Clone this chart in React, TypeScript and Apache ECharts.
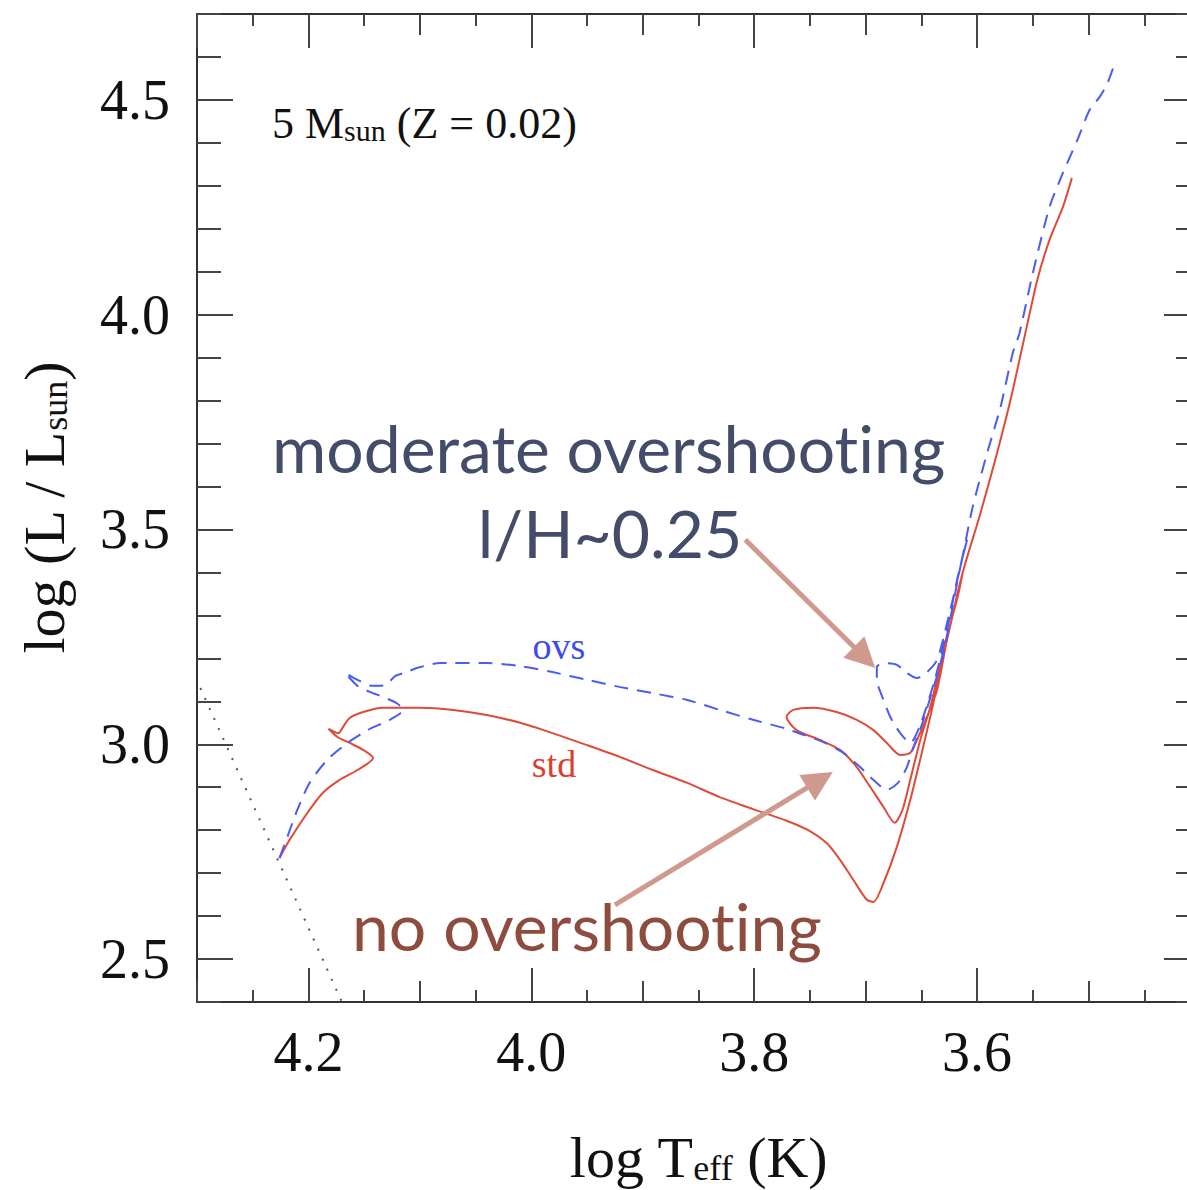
import React, { useEffect, useRef } from "react";
import * as echarts from "echarts";

// ---- axis ranges & ticks ----
const xRange = [3.4, 4.3];
const yRange = [2.4, 4.7];
const yMajorRange = [2.5, 4.5];
const xMajorStep = 0.2;
const xMidStep = 0.1;
const xMinorStep = 0.05;
const yMajorStep = 0.5;
const yMinorStep = 0.1;

// ---- texts ----
const xAxisName = "log T{sub|eff} (K)";
const yAxisName = "log (L / L{sub|sun})";
const modelLabel = "5 M{sub|sun} (Z = 0.02)";
const ovsLabel = "ovs";
const stdLabel = "std";
const ovsNote1 = "moderate overshooting";
const ovsNote2 = "l/H~0.25";
const stdNote = "no overshooting";

// ---- std track (no overshooting): [log Teff, log L] ----
const stdTrack: [number, number][] = [
  [4.226, 2.735], [4.217, 2.777], [4.201, 2.84], [4.187, 2.887], [4.172, 2.917],
  [4.156, 2.94], [4.142, 2.968], [4.151, 2.987], [4.163, 3.003], [4.174, 3.017],
  [4.182, 3.036], [4.173, 3.026], [4.169, 3.04], [4.163, 3.061], [4.151, 3.075],
  [4.133, 3.085], [4.112, 3.085], [4.1, 3.085], [4.07, 3.08], [4.04, 3.068],
  [4.01, 3.05], [3.981, 3.026], [3.95, 2.998], [3.92, 2.97], [3.891, 2.94],
  [3.86, 2.91], [3.831, 2.877], [3.801, 2.849], [3.771, 2.822], [3.75, 2.798],
  [3.735, 2.77], [3.723, 2.731], [3.711, 2.684], [3.699, 2.638], [3.693, 2.633],
  [3.684, 2.677], [3.672, 2.761], [3.66, 2.87], [3.649, 2.987], [3.64, 3.087],
  [3.627, 3.243], [3.613, 3.399], [3.617, 3.348], [3.629, 3.231], [3.642, 3.087],
  [3.651, 3.01], [3.66, 2.917], [3.667, 2.847], [3.674, 2.817], [3.684, 2.854],
  [3.696, 2.901], [3.708, 2.947], [3.723, 2.987], [3.741, 3.01], [3.762, 3.033],
  [3.771, 3.064], [3.765, 3.08], [3.747, 3.085], [3.726, 3.075], [3.708, 3.057],
  [3.693, 3.033], [3.681, 3.003], [3.669, 2.975], [3.66, 2.98], [3.654, 3.01],
  [3.645, 3.064], [3.636, 3.126], [3.627, 3.243], [3.613, 3.399], [3.597, 3.538],
  [3.583, 3.669], [3.57, 3.802], [3.559, 3.93], [3.546, 4.081], [3.535, 4.174],
  [3.523, 4.251], [3.515, 4.318],
];

// ---- ovs track (moderate overshooting) ----
const ovsTrack: [number, number][] = [
  [4.226, 2.735], [4.219, 2.784], [4.21, 2.847], [4.199, 2.91], [4.183, 2.964],
  [4.165, 3.003], [4.147, 3.033], [4.127, 3.057], [4.115, 3.08], [4.121, 3.096],
  [4.133, 3.11], [4.145, 3.122], [4.156, 3.136], [4.167, 3.166], [4.156, 3.15],
  [4.143, 3.136], [4.131, 3.138], [4.122, 3.159], [4.112, 3.168], [4.102, 3.178],
  [4.082, 3.189], [4.07, 3.189], [4.04, 3.189], [4.01, 3.182], [3.981, 3.168],
  [3.95, 3.15], [3.92, 3.133], [3.891, 3.119], [3.86, 3.103], [3.831, 3.08],
  [3.801, 3.057], [3.771, 3.036], [3.756, 3.022], [3.738, 3.005], [3.72, 2.98],
  [3.705, 2.947], [3.693, 2.917], [3.681, 2.894], [3.671, 2.91], [3.663, 2.947],
  [3.658, 2.987], [3.649, 3.05], [3.64, 3.126], [3.631, 3.203], [3.615, 3.413],
  [3.609, 3.476], [3.617, 3.394], [3.627, 3.266], [3.638, 3.15], [3.651, 3.045],
  [3.66, 3.003], [3.669, 3.026], [3.678, 3.064], [3.685, 3.11], [3.69, 3.15],
  [3.69, 3.18], [3.683, 3.189], [3.672, 3.185], [3.663, 3.166], [3.654, 3.154],
  [3.645, 3.168], [3.636, 3.196], [3.627, 3.282], [3.615, 3.413], [3.604, 3.552],
  [3.591, 3.678], [3.579, 3.785], [3.568, 3.911], [3.562, 3.957], [3.55, 4.097],
  [3.535, 4.251], [3.523, 4.33], [3.51, 4.407], [3.499, 4.477], [3.49, 4.507],
  [3.483, 4.539], [3.478, 4.574],
];

// ---- dotted reference line (ZAMS edge) ----
const zamsLine: [number, number][] = [[4.297, 3.131], [4.17, 2.4]];

// ---- annotation arrows: [start, end] ----
const arrowOvs: [number, number][] = [[3.808, 3.476], [3.701, 3.202]];
const arrowStd: [number, number][] = [[3.925, 2.626], [3.741, 2.917]];

const SERIF = "'Liberation Serif', 'Times New Roman', serif";
const SANS = "Lato, 'Noto Sans', sans-serif";
const FRAME = "#333";
const TICK = { color: "#444", width: 2 };

const GRID_LEFT = 197;
const GRID_TOP = 14;
const GRID_W = 1003;
const GRID_H = 988;
const PX_PER_Y = GRID_H / (yRange[1] - yRange[0]);

const nameStyle = {
  fontFamily: SERIF,
  fontSize: 58,
  lineHeight: 58,
  color: "#111",
  rich: {
    sub: { fontFamily: SERIF, fontSize: 36, lineHeight: 30, verticalAlign: "bottom", color: "#111" },
  },
};

function xAxisDef(position: string, interval: number, len: number, opts: any = {}) {
  return {
    type: "value",
    gridIndex: 0,
    position,
    min: xRange[0],
    max: xRange[1],
    inverse: true,
    interval,
    axisLine: { show: !!opts.line, onZero: false, lineStyle: { color: FRAME, width: 2 } },
    axisTick: { show: true, inside: true, length: len, lineStyle: TICK },
    axisLabel: opts.label || { show: false },
    splitLine: { show: false },
    ...(opts.extra || {}),
  };
}

function yAxisDef(gridIndex: number, position: string, min: number, max: number, interval: number, len: number, opts: any = {}) {
  return {
    type: "value",
    gridIndex,
    position,
    min,
    max,
    interval,
    axisLine: { show: !!opts.line, onZero: false, lineStyle: { color: FRAME, width: 2 } },
    axisTick: { show: true, inside: true, length: len, lineStyle: TICK },
    axisLabel: opts.label || { show: false },
    splitLine: { show: false },
    ...(opts.extra || {}),
  };
}

export default function App() {
  const ref = useRef<HTMLDivElement>(null);

  useEffect(() => {
    if (!ref.current) return;
    const chart = echarts.init(ref.current, undefined, { renderer: "svg" });

    const majorTop = GRID_TOP + (yRange[1] - yMajorRange[1]) * PX_PER_Y;
    const majorH = (yMajorRange[1] - yMajorRange[0]) * PX_PER_Y;

    const option: any = {
      animation: false,
      backgroundColor: "#ffffff",
      grid: [
        { left: GRID_LEFT, top: GRID_TOP, width: GRID_W, height: GRID_H, containLabel: false, outerBoundsMode: "none" },
        { left: GRID_LEFT, top: majorTop, width: GRID_W, height: majorH, containLabel: false, outerBoundsMode: "none" },
      ],
      xAxis: [
        xAxisDef("bottom", xMajorStep, 34, {
          line: true,
          label: {
            show: true,
            showMinLabel: false,
            showMaxLabel: false,
            margin: 22,
            fontFamily: SERIF,
            fontSize: 56,
            color: "#111",
            formatter: (v: number) => v.toFixed(1),
          },
          extra: {
            name: xAxisName,
            nameLocation: "middle",
            nameGap: 126,
            nameTextStyle: nameStyle,
          },
        }),
        xAxisDef("bottom", xMidStep, 21),
        xAxisDef("bottom", xMinorStep, 12),
        xAxisDef("top", xMajorStep, 34, { line: true }),
        xAxisDef("top", xMidStep, 21),
        xAxisDef("top", xMinorStep, 12),
        {
          type: "value",
          gridIndex: 1,
          min: xRange[0],
          max: xRange[1],
          inverse: true,
          show: false,
        },
      ],
      yAxis: [
        yAxisDef(0, "left", yRange[0], yRange[1], yMinorStep, 24, {
          line: true,
          extra: {
            name: yAxisName,
            nameLocation: "middle",
            nameGap: 124,
            nameRotate: 90,
            nameTextStyle: nameStyle,
          },
        }),
        yAxisDef(0, "right", yRange[0], yRange[1], yMinorStep, 24, { line: true }),
        yAxisDef(1, "left", yMajorRange[0], yMajorRange[1], yMajorStep, 36, {
          label: {
            show: true,
            margin: 27,
            fontFamily: SERIF,
            fontSize: 56,
            color: "#111",
            formatter: (v: number) => v.toFixed(1),
          },
        }),
        yAxisDef(1, "right", yMajorRange[0], yMajorRange[1], yMajorStep, 36),
      ],
      series: [
        {
          type: "line",
          name: "zams",
          xAxisIndex: 0,
          yAxisIndex: 0,
          data: zamsLine,
          symbol: "none",
          silent: true,
          lineStyle: { color: "#555", width: 2, type: [2, 9] },
          markLine: {
            silent: true,
            symbol: ["none", "triangle"],
            symbolSize: 30,
            label: { show: false },
            lineStyle: { color: "#cf998d", width: 5, type: "solid" },
            emphasis: { disabled: true },
            data: [
              [{ coord: arrowOvs[0] }, { coord: arrowOvs[1] }],
              [{ coord: arrowStd[0] }, { coord: arrowStd[1] }],
            ],
          },
        },
        {
          type: "line",
          name: "std",
          xAxisIndex: 0,
          yAxisIndex: 0,
          data: stdTrack,
          symbol: "none",
          smooth: 0.25,
          silent: true,
          lineStyle: { color: "#e04a38", width: 2 },
          z: 3,
        },
        {
          type: "line",
          name: "ovs",
          xAxisIndex: 0,
          yAxisIndex: 0,
          data: ovsTrack,
          symbol: "none",
          smooth: 0.25,
          silent: true,
          lineStyle: { color: "#4a5cf5", width: 2, type: [14, 9] },
          z: 4,
        },
      ],
      graphic: [
        {
          type: "text",
          x: 272,
          y: 123,
          silent: true,
          style: {
            text: modelLabel,
            fontFamily: SERIF,
            fontSize: 44,
            lineHeight: 44,
            fill: "#111",
            align: "left",
            verticalAlign: "middle",
            rich: { sub: { fontFamily: SERIF, fontSize: 30, lineHeight: 26, verticalAlign: "bottom", fill: "#111" } },
          },
        },
        {
          type: "text",
          x: 559,
          y: 646,
          silent: true,
          style: { text: ovsLabel, fontFamily: SERIF, fontSize: 38, fill: "#3a4cf0", align: "center", verticalAlign: "middle" },
        },
        {
          type: "text",
          x: 554,
          y: 764,
          silent: true,
          style: { text: stdLabel, fontFamily: SERIF, fontSize: 38, fill: "#d9412f", align: "center", verticalAlign: "middle" },
        },
        {
          type: "text",
          x: 272,
          y: 447,
          silent: true,
          style: { text: ovsNote1, fontFamily: SANS, fontSize: 66, fill: "#434c69", align: "left", verticalAlign: "middle" },
        },
        {
          type: "text",
          x: 610,
          y: 532,
          silent: true,
          style: { text: ovsNote2, fontFamily: SANS, fontSize: 66, fill: "#434c69", align: "center", verticalAlign: "middle" },
        },
        {
          type: "text",
          x: 352,
          y: 925,
          silent: true,
          style: { text: stdNote, fontFamily: SANS, fontSize: 66, fill: "#8e4c3f", align: "left", verticalAlign: "middle" },
        },
      ],
    };

    chart.setOption(option);
    return () => chart.dispose();
  }, []);

  return (
    <>
      <style>{"svg text { font-variant-ligatures: none; font-feature-settings: 'liga' 0, 'clig' 0; }"}</style>
      <div
        ref={ref}
        style={{ position: "fixed", left: 0, top: 0, width: 1187, height: 1190, background: "#fff", overflow: "hidden" }}
      />
    </>
  );
}
